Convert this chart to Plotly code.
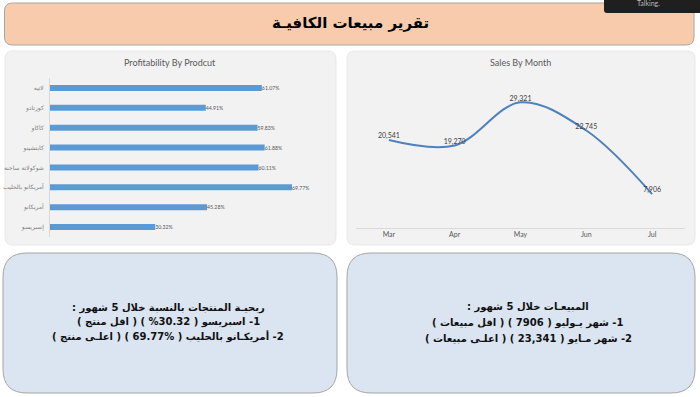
import plotly.graph_objects as go

W, H = 700, 397

# ---- data ----
products = ["لاتيه", "كورتادو", "كاكاو", "كابتشينو", "شوكولاتة ساخنة",
            "أمريكانو بالحليب", "أمريكانو", "إسبريسو"]
profit_pct = [61.07, 44.91, 59.83, 61.88, 60.11, 69.77, 45.28, 30.32]

months = ["Mar", "Apr", "May", "Jun", "Jul"]
sales = [20541, 19270, 29321, 22745, 7906]

title_text = "تقرير مبيعات الكافيـة"
left_lines = ["ربحيـة المنتجات بالنسبة خلال 5 شهور :",
              "1- اسبريسو ( 30.32% ) ( اقل منتج )",
              "2- أمريكـانو بالحليب ( %69.77 ) ( اعلـى منتج )"]
right_lines = ["المبيعـات خلال 5 شهور :",
               "1- شهر يـوليو ( 7906 ) ( اقل مبيعات )",
               "2- شهر مـايو ( 23,341 ) ( اعلـى مبيعات )"]


def px(x):
    return x / W


def py(y):
    return 1 - y / H


def rrect(x0, y0, x1, y1, r):
    pts = [
        f"M {px(x0 + r)} {py(y0)}",
        f"L {px(x1 - r)} {py(y0)}",
        f"Q {px(x1)} {py(y0)} {px(x1)} {py(y0 + r)}",
        f"L {px(x1)} {py(y1 - r)}",
        f"Q {px(x1)} {py(y1)} {px(x1 - r)} {py(y1)}",
        f"L {px(x0 + r)} {py(y1)}",
        f"Q {px(x0)} {py(y1)} {px(x0)} {py(y1 - r)}",
        f"L {px(x0)} {py(y0 + r)}",
        f"Q {px(x0)} {py(y0)} {px(x0 + r)} {py(y0)}",
        "Z",
    ]
    return " ".join(pts)


def rtl(s):
    return "\u200f" + s + "\u200f"


fig = go.Figure()

fig.add_trace(go.Bar(
    x=profit_pct, y=products, orientation="h",
    marker=dict(color="#5B9BD5", line=dict(width=0)),
    text=[f"{v:.2f}%" for v in profit_pct], textposition="outside",
    textfont=dict(size=7, color="#595959", family="Lato"),
    cliponaxis=False, xaxis="x", yaxis="y", showlegend=False,
))

fig.add_trace(go.Scatter(
    x=months, y=sales, mode="lines+text",
    line=dict(color="#4F81BD", width=2, shape="spline", smoothing=1),
    text=[f"{v:,}" for v in sales], textposition="top center",
    textfont=dict(size=7, color="#404040", family="Lato"),
    cliponaxis=False, xaxis="x2", yaxis="y2", showlegend=False,
))

shapes = [
    dict(type="path", path=rrect(4.5, 3, 694, 45, 8), xref="paper", yref="paper",
         fillcolor="#F8CBAD", line=dict(color="#A6A6A6", width=1), layer="below"),
    dict(type="path", path=rrect(5, 51, 336, 245, 8), xref="paper", yref="paper",
         fillcolor="#F2F2F2", line=dict(color="#E8E8E8", width=1), layer="below"),
    dict(type="path", path=rrect(347, 51, 695, 245, 8), xref="paper", yref="paper",
         fillcolor="#F2F2F2", line=dict(color="#E8E8E8", width=1), layer="below"),
    dict(type="path", path=rrect(3, 253, 337, 393, 24), xref="paper", yref="paper",
         fillcolor="#DAE5F1", line=dict(color="#A5A5A5", width=1), layer="below"),
    dict(type="path", path=rrect(347, 253, 695, 393, 24), xref="paper", yref="paper",
         fillcolor="#DAE5F1", line=dict(color="#A5A5A5", width=1), layer="below"),
    dict(type="path", path=rrect(604, -4, 703, 13, 3), xref="paper", yref="paper",
         fillcolor="#1F1F1F", line=dict(width=0), layer="above"),
]

annotations = [
    dict(text=f"<b>{title_text}</b>", x=px(350), y=py(23), xref="paper", yref="paper",
         showarrow=False, font=dict(size=15, color="#000000", family="DejaVu Sans"),
         xanchor="center", yanchor="middle"),
    dict(text="Profitability By Prodcut", x=px(170), y=py(63), xref="paper", yref="paper",
         showarrow=False, font=dict(size=9, color="#595959", family="Lato"),
         xanchor="center", yanchor="middle"),
    dict(text="Sales By Month", x=px(520), y=py(63), xref="paper", yref="paper",
         showarrow=False, font=dict(size=9, color="#595959", family="Lato"),
         xanchor="center", yanchor="middle"),
    dict(text="Talking.", x=px(648), y=py(3), xref="paper", yref="paper",
         showarrow=False, font=dict(size=7, color="#BBBBBB", family="Lato"),
         xanchor="center", yanchor="middle"),
]
for s, yy in zip(left_lines, [308, 322, 336]):
    annotations.append(dict(text=f"<b>{rtl(s)}</b>", x=px(168), y=py(yy), xref="paper",
                            yref="paper", showarrow=False,
                            font=dict(size=10, color="#111111", family="DejaVu Sans"),
                            xanchor="center", yanchor="middle"))
for s, yy in zip(right_lines, [307, 323, 339]):
    annotations.append(dict(text=f"<b>{rtl(s)}</b>", x=px(528), y=py(yy), xref="paper",
                            yref="paper", showarrow=False,
                            font=dict(size=10, color="#111111", family="DejaVu Sans"),
                            xanchor="center", yanchor="middle"))

fig.update_layout(
    width=W, height=H, margin=dict(l=0, r=0, t=0, b=0),
    paper_bgcolor="#FFFFFF", plot_bgcolor="rgba(0,0,0,0)",
    bargap=0.7,
    shapes=shapes, annotations=annotations,
    xaxis=dict(domain=[px(50), px(327.5)], range=[0, 80], showgrid=False,
               zeroline=False, showticklabels=False, showline=False, fixedrange=True),
    yaxis=dict(domain=[py(237), py(78)], autorange="reversed", showgrid=False,
               zeroline=False, showline=True, linecolor="#D9D9D9", linewidth=1,
               tickfont=dict(size=6, color="#7F7F7F", family="DejaVu Sans"),
               ticks="", ticklabelstandoff=4, anchor="x"),
    xaxis2=dict(domain=[px(356), px(685)], range=[-0.5, 4.5], showgrid=False,
                zeroline=False, showline=True, linecolor="#D9D9D9", linewidth=1,
                ticks="", tickfont=dict(size=7, color="#595959", family="Lato"),
                anchor="y2"),
    yaxis2=dict(domain=[py(228), py(78)], range=[0, 35000], showgrid=False,
                zeroline=False, showticklabels=False, showline=False, anchor="x2"),
    font=dict(family="DejaVu Sans"),
)

fig.write_html("out.html", config={"displayModeBar": False},
               post_script="document.body.style.margin='0px';"
                           "document.body.style.overflow='hidden';")
